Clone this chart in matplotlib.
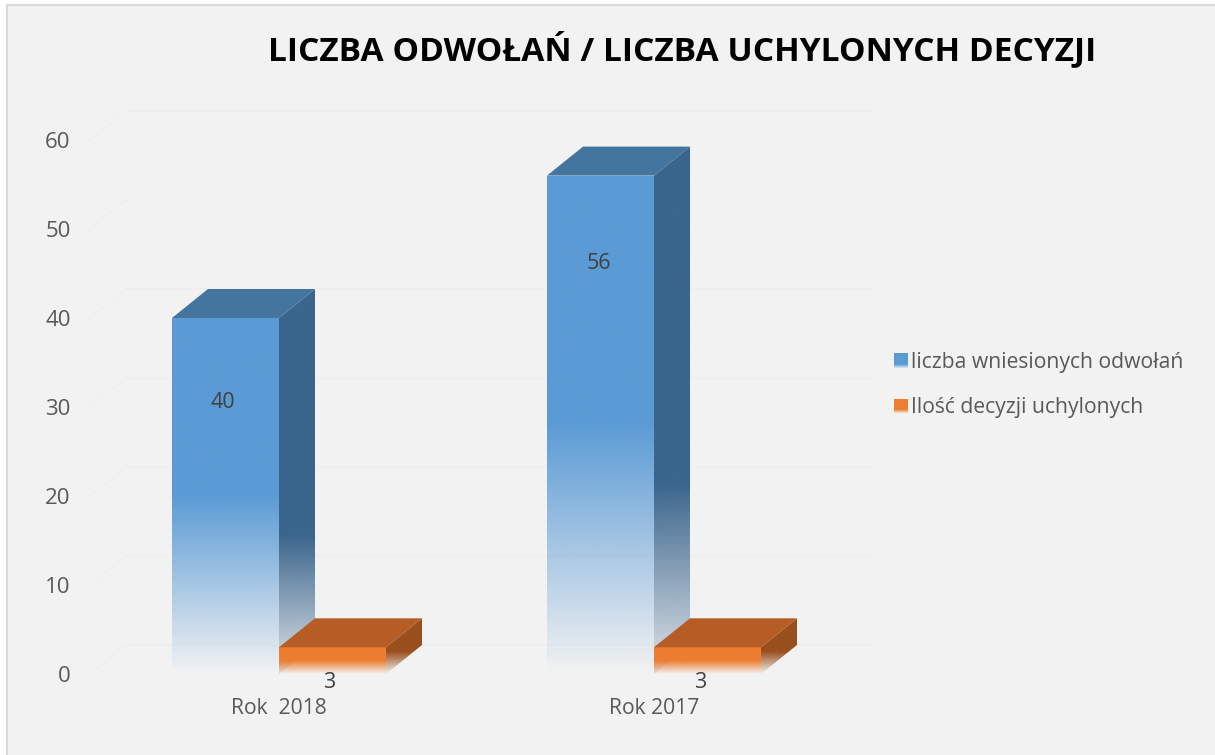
import numpy as np
import matplotlib
matplotlib.use('Agg')
import matplotlib.pyplot as plt
from matplotlib.colors import to_rgb
from matplotlib.patches import Polygon, Rectangle
from matplotlib.legend_handler import HandlerBase

# Data
years = ['Rok  2018', 'Rok 2017']
appeals = [40, 56]
overturned = [3, 3]
y_ticks = [0, 10, 20, 30, 40, 50, 60]
title = 'LICZBA ODWOŁAŃ / LICZBA UCHYLONYCH DECYZJI'
legend_labels = ['liczba wniesionych odwołań', 'Ilość decyzji uchylonych']

BLUE = ['#5B9BD5', '#3A658C', '#44759F']
ORANGE = ['#ED7D31', '#9A4F1E', '#B55D25']
FONT = 'Open Sans'

plt.rcParams['font.family'] = FONT

fig = plt.figure(figsize=(12.15, 7.55), dpi=100, facecolor='white')
W, H = 1215, 755

# grey panel, only left and top edge of the border are in the picture
fig.patches.append(Rectangle((7 / W, -0.02), 1.1, 1.02 - 5 / H, transform=fig.transFigure,
                             facecolor='#F2F2F2', edgecolor='#DADADA', linewidth=1.5,
                             zorder=-1))

# plot area, 1 unit on x = one category, y = values
ax = fig.add_axes([90 / W, (H - 674) / H, 785 / W, 534 / H])
ax.set_xlim((90 - 279) / 375, (875 - 279) / 375)
ax.set_ylim(0, 60)
ax.patch.set_alpha(0)
for s in ax.spines.values():
    s.set_visible(False)

bar_w = 107 / 375
dx = 36 / 375
dy = 29 / 8.9


def fade(color, solid, floor):
    # colour image: faded at the bottom, solid from the given share of height
    t = np.linspace(0, 1, 200)
    alpha = floor + (1 - floor) * np.clip(t / solid, 0, 1)
    img = np.ones((200, 1, 4))
    img[:, 0, :3] = to_rgb(color)
    img[:, 0, 3] = alpha
    return img


def gradient_poly(pts, color, lo, hi, z, solid=0.5, floor=0.0):
    poly = Polygon(pts, closed=True, facecolor='none', edgecolor='none',
                   transform=ax.transData, clip_on=False)
    ax.add_patch(poly)
    x = [p[0] for p in pts]
    im = ax.imshow(fade(color, solid, floor), extent=[min(x), max(x), lo, hi], origin='lower',
                   aspect='auto', zorder=z, interpolation='bilinear', clip_on=True)
    im.set_clip_path(poly)


def bar3d(x0, h, colors, z, floor=0.0, side_solid=0.5):
    x1 = x0 + bar_w
    gradient_poly([(x0, 0), (x1, 0), (x1, h), (x0, h)], colors[0], 0, h, z + 0.2)
    hi = h + dy
    gradient_poly([(x1, 0), (x1 + dx, dy), (x1 + dx, hi), (x1, h)], colors[1],
                  0, hi, z + 0.1, solid=side_solid, floor=floor)
    ax.add_patch(Polygon([(x0, h), (x1, h), (x1 + dx, hi), (x0 + dx, hi)],
                         closed=True, facecolor=colors[2], edgecolor='none', zorder=z + 0.3,
                         clip_on=False))


# floor and wall lines
xmin, xmax = ax.get_xlim()
for v in y_ticks:
    ax.plot([xmin, xmin + dx, xmax], [v, v + dy, v + dy],
            color='#EFEFEF', lw=1.2, zorder=1, clip_on=False)

for i in range(len(years)):
    bar3d(i - bar_w, appeals[i], BLUE, 2, floor=0.1, side_solid=0.36)
    bar3d(i, overturned[i], ORANGE, 3, side_solid=0.4)

# limits get changed by imshow
ax.set_xlim(xmin, xmax)
ax.set_ylim(0, 60)

# value labels
blue_off = [(-0.007, -9.5), (-0.005, -9.9)]
orange_off = [(0.133, -3.9), (0.123, -3.9)]
for i in range(len(years)):
    ax.text(i - bar_w / 2 + blue_off[i][0], appeals[i] + blue_off[i][1], str(appeals[i]),
            ha='center', va='center', fontsize=15.5, color='#404040', zorder=6)
    ax.text(i + orange_off[i][0], overturned[i] + orange_off[i][1], str(overturned[i]),
            ha='center', va='center', fontsize=15.5, color='#404040', zorder=6, clip_on=False)

ax.set_yticks(y_ticks)
ax.set_xticks(range(len(years)))
ax.set_xticklabels(years)
ax.tick_params(axis='y', length=0, pad=14, labelsize=16, labelcolor='#595959')
ax.tick_params(axis='x', length=0, pad=17, labelsize=15.2, labelcolor='#595959')

fig.text(682 / W, 1 - 50 / H, title, ha='center', va='center', fontsize=24.1,
         fontweight='bold', color='black')


class FadeSwatch(HandlerBase):
    def create_artists(self, legend, orig, xd, yd, width, height, fontsize, trans):
        out = []
        n = 14
        for k in range(n):
            a = min(1.0, (n - k) / (n * 0.3))
            out.append(Rectangle((-xd, -yd + height * (n - k - 1) / n), width, height / n,
                                 facecolor=orig.get_facecolor(), alpha=a, edgecolor='none',
                                 transform=trans))
        return out


handles = [Rectangle((0, 0), 1, 1, facecolor=BLUE[0]), Rectangle((0, 0), 1, 1, facecolor=ORANGE[0])]
leg = fig.legend(handles, legend_labels, handler_map={Rectangle: FadeSwatch()},
                 loc='upper left', bbox_to_anchor=(894 / W, 1 - 352 / H), frameon=False,
                 fontsize=15.2, labelcolor='#595959', handlelength=0.66, handleheight=0.66,
                 handletextpad=0.15, labelspacing=1.15, borderpad=0, borderaxespad=0)

fig.savefig('out.png', dpi=100, facecolor=fig.get_facecolor())
